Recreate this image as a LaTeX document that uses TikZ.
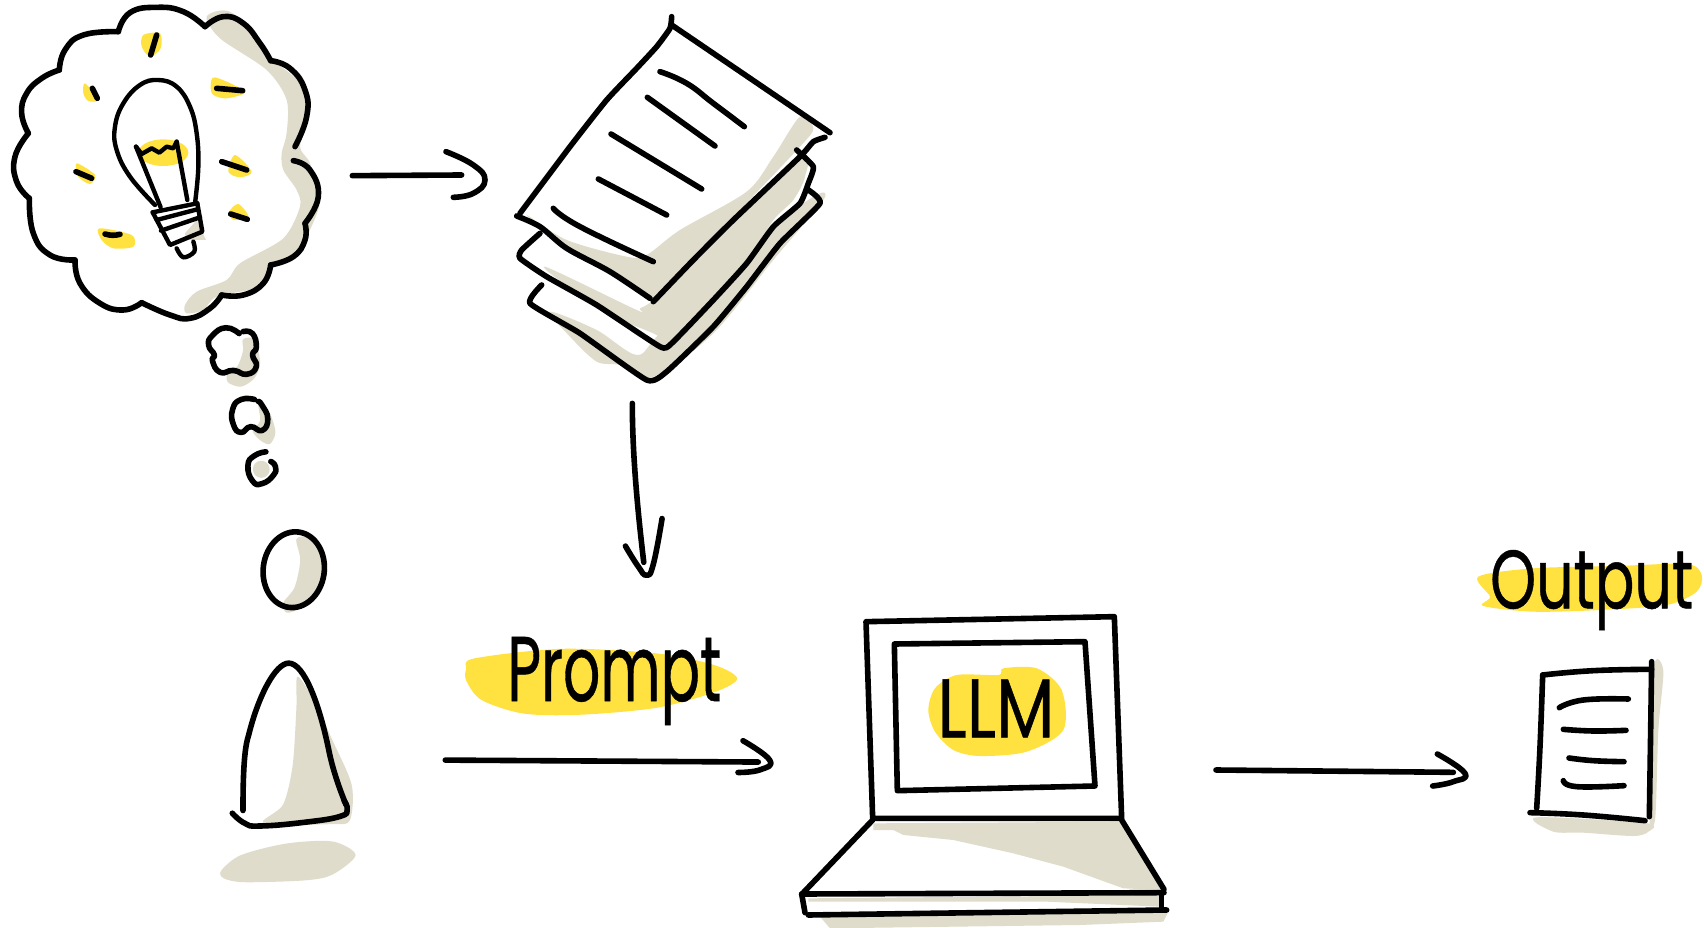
\documentclass[tikz,border=0pt]{standalone}
\usepackage{fontspec}
\setmainfont{Poppins}
\definecolor{hl}{HTML}{FFE240}
\definecolor{sh}{HTML}{E0DCCB}
\newcommand{\blob}[2][hl]{\fill[#1] plot[smooth cycle,tension=.5] coordinates {#2};}
\newcommand{\inkline}[1]{\draw[ink] plot[smooth,tension=.8] coordinates {#1};}
\tikzset{
  ink/.style={draw=black,line width=5.6pt,line cap=round,line join=round},
  thin ink/.style={ink,line width=4.4pt},
  hand/.style={inner sep=0pt,text=black,font=\addfontfeature{FakeBold=0.6}},
}
\begin{document}
\begin{tikzpicture}[x=1pt,y=-1pt]
\useasboundingbox (0,0) rectangle (1704,928);
\fill[white] (0,0) rectangle (1704,928);

% ---------- thought cloud ----------
\begin{scope}[scale=1/3]
\blob[sh]{(620,50)(690,35)(790,130)(820,180)(900,250)(925,350)(900,440)(930,490)(960,600)(930,690)(890,770)(810,800)(780,860)(650,890)(610,930)(560,940)(555,915)(590,875)(680,840)(720,790)(850,715)(900,620)(890,570)(850,510)(845,460)(860,400)(860,300)(800,210)(660,115)}
\inkline{(355,95)(390,38)(470,22)(550,35)(615,80)}
\inkline{(615,80)(670,50)(730,70)(780,130)(812,182)}
\inkline{(812,182)(870,205)(915,270)(920,350)(885,440)}
\inkline{(880,482)(930,510)(955,590)(915,670)}
\inkline{(915,670)(915,720)(880,770)(812,795)}
\inkline{(812,795)(790,850)(730,885)(665,885)}
\inkline{(665,885)(630,925)(570,955)(510,945)(425,908)}
\inkline{(425,908)(370,930)(300,910)(240,850)(225,780)}
\inkline{(225,780)(150,765)(100,700)(88,595)}
\inkline{(88,595)(50,545)(45,470)(85,400)}
\inkline{(85,400)(65,340)(80,280)(125,235)(178,210)}
\inkline{(178,210)(195,150)(250,105)(355,95)}
% yellow rays
\blob{(430,105)(480,100)(482,145)(450,170)(425,140)}
\blob{(255,250)(295,300)(265,303)(250,280)}
\blob{(645,232)(735,275)(680,295)(640,285)(632,260)}
\blob{(705,465)(755,515)(720,532)(685,515)}
\blob{(230,490)(285,525)(270,552)(235,530)}
\blob{(715,612)(745,650)(700,660)(688,635)}
\blob{(298,685)(395,705)(400,740)(340,745)(305,720)}
\draw[ink] (470,105)--(452,165);
\draw[ink] (277,265)--(292,295);
\draw[ink] (650,265)--(728,272);
\draw[ink] (665,485)--(740,510);
\draw[ink] (228,515)--(275,535);
\draw[ink] (692,642)--(742,658);
\draw[ink] (315,702)to[bend right=15](360,703);
% bulb
\fill[hl] (490,458) ellipse [x radius=75,y radius=40];
\fill[sh] (555,700)--(590,660)--(618,720)--(560,720)--cycle;
\draw[thin ink] plot[smooth,tension=.7] coordinates {(465,615)(390,530)(350,450)(345,380)(370,310)(420,255)(475,240)(530,260)(570,320)(590,400)(595,500)(585,610)};
\draw[thin ink] (408,440)--(425,462)--(455,445)--(478,458)--(500,440)--(520,445)--(530,425);
\draw[thin ink] (408,440)--(482,622);
\draw[thin ink] (530,425)--(562,600);
\draw[thin ink] (458,637)--(592,610);
\draw[thin ink] (470,660)--(592,628);
\draw[thin ink] (483,692)--(600,652);
\draw[thin ink] (458,637)--(510,735)--(607,695)--(592,610);
\draw[thin ink] plot[smooth,tension=.6] coordinates {(530,745)(550,772)(583,755)(580,725)};
\end{scope}

% ---------- stack of pages ----------
\begin{scope}[shift={(480,0)},scale=1/3]
\blob[sh]{(210,935)(350,990)(470,1065)(540,1000)(800,740)(1000,590)(1030,600)(880,780)(700,1000)(520,1130)(420,1095)(350,1085)(270,1010)}
\blob[sh]{(195,800)(470,930)(480,925)(520,900)(640,780)(960,480)(975,530)(940,600)(880,660)(800,780)(650,930)(540,1030)(530,1005)(400,950)(290,880)}
\blob[sh]{(140,645)(260,720)(440,770)(500,765)(600,690)(800,575)(880,470)(960,350)(1000,385)(960,440)(760,650)(640,770)(520,895)(400,820)(260,745)}
\draw[ink] plot[smooth,tension=.3] coordinates {(575,50)(570,85)(530,140)(470,205)(380,300)(270,440)(120,640)};
\draw[ink] (575,75)--(1050,398);
\draw[ink] plot[smooth,tension=.5] coordinates {(110,648)(180,680)(260,745)(390,815)(510,895)};
\draw[ink] plot[smooth,tension=.3] coordinates {(520,905)(640,780)(760,660)(960,470)(1000,425)(1035,412)};
\draw[ink] plot[smooth,tension=.3] coordinates {(180,700)(125,750)(120,775)(200,830)(350,915)(540,1040)(575,1030)(700,900)(800,790)(880,680)(960,610)(985,550)(1000,500)(950,450)};
\draw[ink] plot[smooth,tension=.3] coordinates {(185,855)(150,910)(300,1000)(500,1140)(560,1115)(700,980)(800,860)(900,730)(1020,610)(985,570)};
\inkline{(540,215)(620,250)(700,310)(793,380)}
\draw[ink] (502,292)--(705,438);
\draw[ink] (393,402)--(665,567);
\draw[ink] (355,537)--(560,645);
\inkline{(220,625)(300,680)(520,785)}
\end{scope}

% ---------- person and small bubbles ----------
\begin{scope}[shift={(180,320)},xscale=1/2.62,yscale=1/2.579]
\blob[sh]{(165,50)(195,50)(210,110)(195,150)(160,172)(125,160)(125,130)(150,120)(165,80)}
\blob[sh]{(205,210)(235,240)(250,290)(235,320)(210,310)(190,285)(210,260)}
\fill[sh] (213,385) circle (22);
\draw[ink] plot[smooth,tension=.9] coordinates {(155,35)(120,20)(85,40)(75,65)(90,90)(85,105)(105,135)(140,130)(175,140)(200,120)(190,90)(200,70)(190,35)(165,30)};
\draw[ink] plot[smooth,tension=.9] coordinates {(195,205)(160,205)(138,230)(140,270)(160,290)(185,275)(215,285)(230,255)(215,220)(205,210)};
\draw[ink] plot[smooth,tension=.9] coordinates {(225,340)(195,350)(178,375)(190,415)(215,422)(245,400)(250,378)(238,365)};
\blob[sh]{(305,565)(340,565)(385,640)(370,690)(320,740)(280,755)(270,730)(300,690)(315,620)}
\draw[ink,rotate around={-8:(298,644)}] (298,644) ellipse [x radius=80,y radius=98];
\blob[sh]{(308,920)(350,980)(400,1085)(450,1200)(445,1290)(400,1300)(220,1298)(270,1250)(295,1150)(305,1000)}
\draw[ink] (165,1265) .. controls (165,1150) and (170,1100) .. (180,1070) .. controls (205,970) and (250,885) .. (285,885) .. controls (325,885) and (365,990) .. (390,1110) .. controls (400,1160) and (420,1215) .. (435,1250);
\inkline{(137,1272)(170,1298)(210,1305)(330,1295)(420,1280)(438,1262)(430,1240)}
\blob[sh]{(108,1420)(160,1380)(280,1350)(400,1345)(460,1380)(400,1430)(330,1445)(170,1450)(115,1440)}
% prompt label
\blob{(770,873)(1000,848)(1250,860)(1400,890)(1460,925)(1400,960)(1250,1000)(1050,1018)(900,1015)(790,980)(750,930)(750,900)}
\node[hand] (prompt) at (1138,931) {\resizebox*{214pt}{88pt}{Prompt}};
% arrow to the laptop
\coordinate (a3s) at (695,1135);
\coordinate (a3e) at (1515,1140);
\draw[ink] (a3s)--(a3e);
\inkline{(1475,1085)(1545,1135)(1520,1160)(1462,1167)}
% arrow from pages down
\coordinate (a2s) at (1185,215);
\coordinate (a2e) at (1215,625);
\draw[ink] (a2s) .. controls (1185,350) and (1200,500) .. (a2e);
\inkline{(1167,583)(1200,635)(1222,658)(1240,630)(1263,512)}
\end{scope}

% arrow from cloud to pages
\begin{scope}[scale=1/3]
\coordinate (a1s) at (1057,527);
\coordinate (a1e) at (1385,525);
\draw[ink] (a1s)--(a1e);
\inkline{(1338,455)(1420,495)(1455,540)(1420,580)(1360,592)}
\end{scope}

% ---------- laptop ----------
\begin{scope}[shift={(780,600)},scale=1/3]
\fill[sh] (280,670)--(1025,665)--(1150,870)--(1030,865)--(850,800)--(700,760)--(520,720)--(370,705)--(340,690)--(280,690)--cycle;
\fill[sh] (85,895)--(1140,885)--(1140,920)--(800,905)--(85,905)--cycle;
\fill[sh] (120,950)--(1165,935)--(1150,965)--(900,975)--(150,985)--cycle;
\blob{(530,225)(655,225)(670,205)(770,205)(845,270)(850,390)(740,455)(600,468)(520,450)(465,395)(445,330)(465,265)}
\node[hand] (llm) at (648,325) {\resizebox{117pt}{58pt}{LLM}};
\draw[ink] (258,65)--(1003,50)--(1025,655)--(278,655)--cycle;
\draw[ink] (343,132)--(915,125)--(945,558)--(352,572)--cycle;
\draw[ink] (278,660)--(68,880);
\draw[ink] (1025,660)--(1152,868);
\draw[ink] (65,882)--(1152,878);
\draw[ink] (65,882)--(75,938);
\draw[ink] (85,945)--(1160,930);
\draw[ink] (1145,880)--(1145,930);
\end{scope}

% ---------- output ----------
\begin{scope}[shift={(1200,530)},scale=1/3]
\blob[sh]{(1360,420)(1390,422)(1375,600)(1365,870)(1340,875)(1350,860)}
\blob[sh]{(1010,862)(1340,880)(1345,905)(1300,918)(1150,908)(1060,905)}
\blob{(835,140)(1000,115)(1250,108)(1460,102)(1505,135)(1490,185)(1400,225)(1200,240)(1000,245)(850,228)(870,200)}
\node[hand] (output) at (1175,180) {\resizebox*{203pt}{80pt}{Output}};
\inkline{(1028,435)(1180,422)(1355,418)}
\draw[ink] (1355,395)--(1352,600)--(1348,860);
\inkline{(1028,435)(1020,650)(1010,835)}
\inkline{(990,848)(1150,855)(1335,872)}
\inkline{(1078,533)(1150,510)(1285,507)}
\inkline{(1090,598)(1180,603)(1278,601)}
\inkline{(1107,684)(1180,692)(1272,695)}
\inkline{(1090,752)(1130,770)(1272,767)}
\coordinate (a4s) at (48,720);
\coordinate (a4e) at (760,727);
\draw[ink] (a4s)--(a4e);
\inkline{(712,672)(795,730)(760,755)(698,768)}
\end{scope}
\end{tikzpicture}
\end{document}
